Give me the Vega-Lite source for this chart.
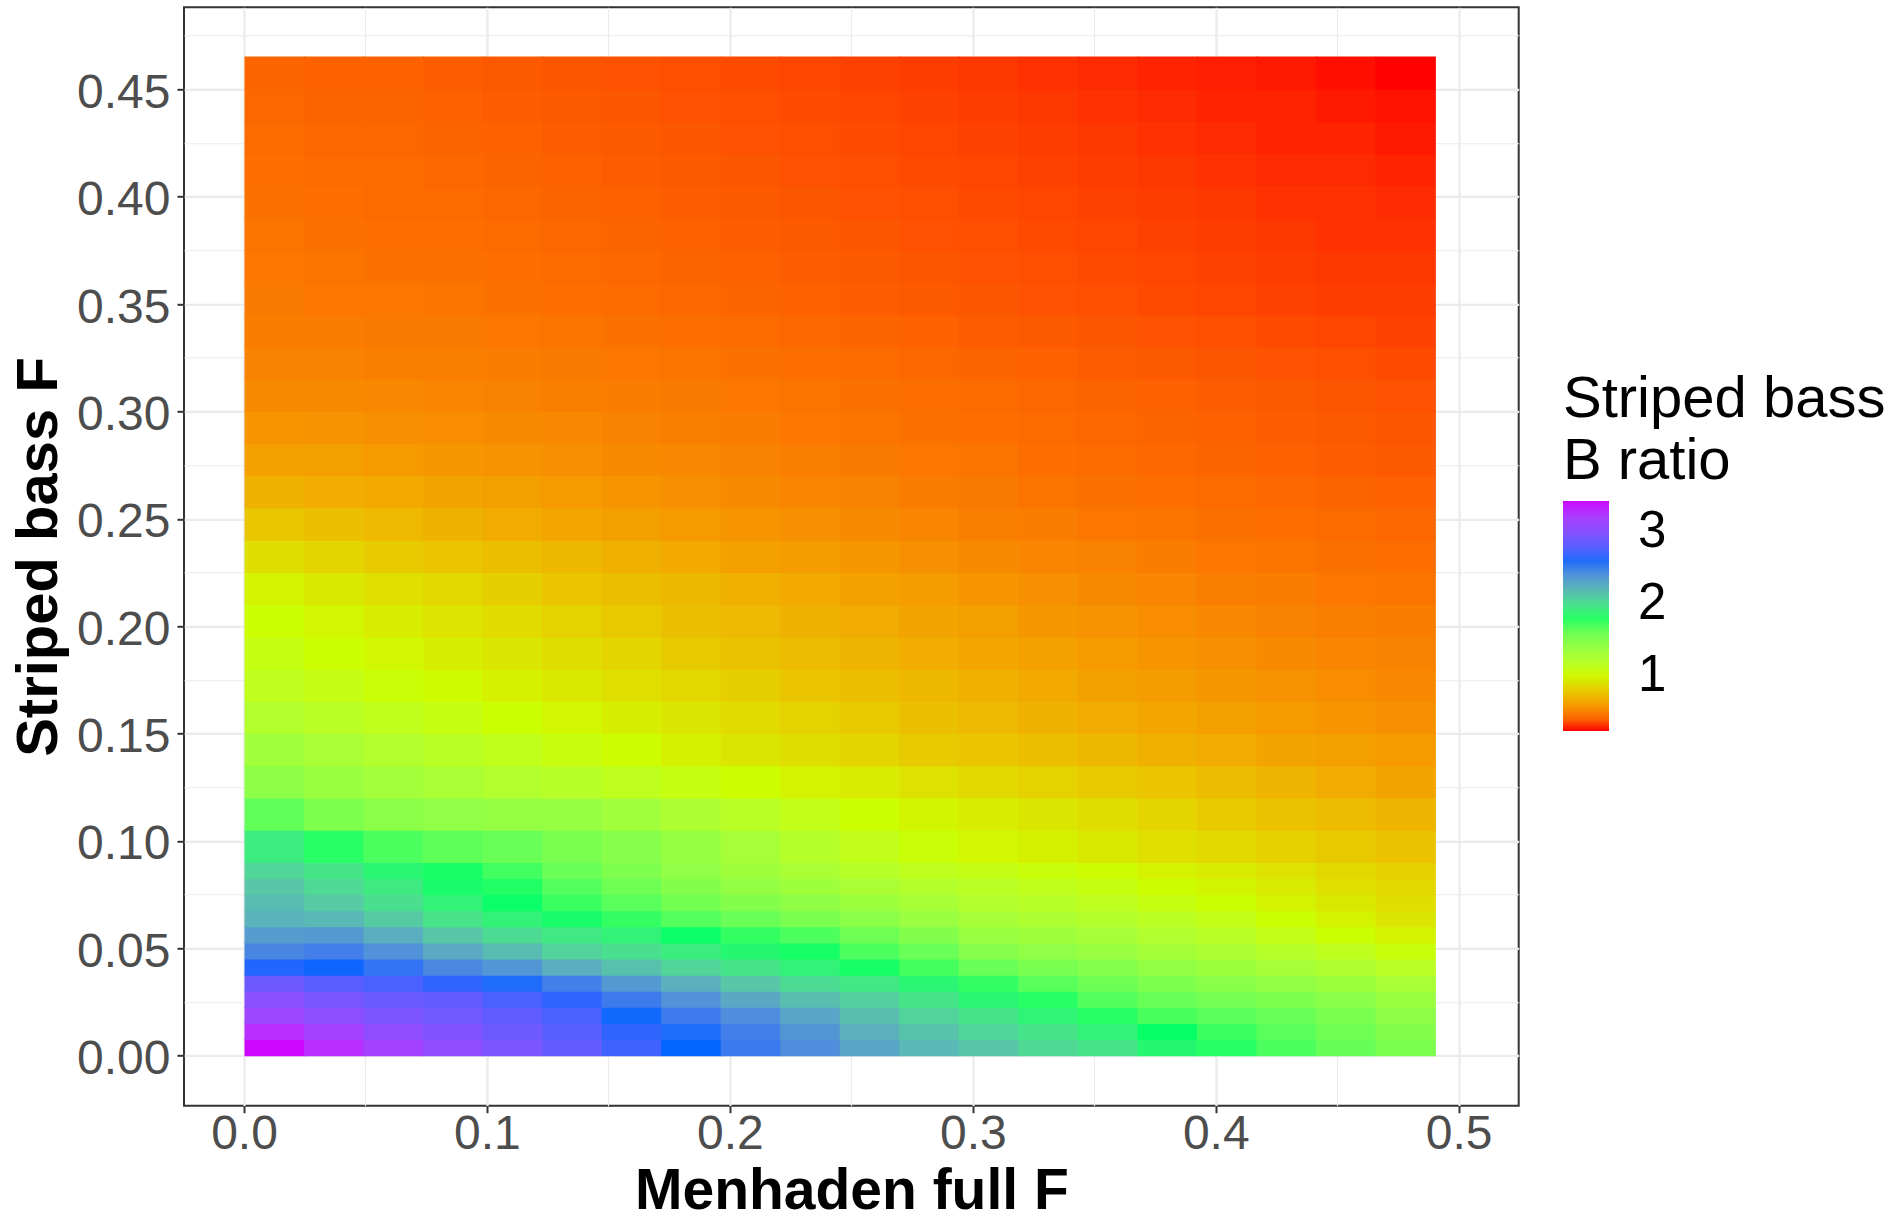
{
"$schema":"https://vega.github.io/schema/vega-lite/v6.json",
"width":1334.7,"height":1098.4,
"autosize":{"type":"none"},
"padding":{"left":184,"top":7.3,"right":378.3,"bottom":114.3},
"background":"white",
"datasets":{
"lo":[
{"x":0,"y":0,"v":3.42},{"x":0.0245,"y":0,"v":3.3},{"x":0.049,"y":0,"v":3.17},{"x":0.0735,"y":0,"v":3.04},{"x":0.098,"y":0,"v":2.95},{"x":0.1225,"y":0,"v":2.84},{"x":0.147,"y":0,"v":2.72},{"x":0.1715,"y":0,"v":2.63},{"x":0.196,"y":0,"v":2.53},{"x":0.2205,"y":0,"v":2.42},{"x":0.245,"y":0,"v":2.3},{"x":0.2695,"y":0,"v":2.2},{"x":0.294,"y":0,"v":2.12},{"x":0.3185,"y":0,"v":2.03},{"x":0.343,"y":0,"v":1.97},{"x":0.3675,"y":0,"v":1.87},{"x":0.392,"y":0,"v":1.8},{"x":0.4165,"y":0,"v":1.72},{"x":0.441,"y":0,"v":1.63},{"x":0.4655,"y":0,"v":1.54},
{"x":0,"y":0.0075,"v":3.3},{"x":0.0245,"y":0.0075,"v":3.17},{"x":0.049,"y":0.0075,"v":3.05},{"x":0.0735,"y":0.0075,"v":2.97},{"x":0.098,"y":0.0075,"v":2.88},{"x":0.1225,"y":0.0075,"v":2.79},{"x":0.147,"y":0.0075,"v":2.68},{"x":0.1715,"y":0.0075,"v":2.6},{"x":0.196,"y":0.0075,"v":2.5},{"x":0.2205,"y":0.0075,"v":2.38},{"x":0.245,"y":0.0075,"v":2.24},{"x":0.2695,"y":0.0075,"v":2.14},{"x":0.294,"y":0.0075,"v":2.05},{"x":0.3185,"y":0.0075,"v":1.97},{"x":0.343,"y":0.0075,"v":1.9},{"x":0.3675,"y":0.0075,"v":1.83},{"x":0.392,"y":0.0075,"v":1.77},{"x":0.4165,"y":0.0075,"v":1.68},{"x":0.441,"y":0.0075,"v":1.6},{"x":0.4655,"y":0.0075,"v":1.5},
{"x":0,"y":0.015,"v":3.13},{"x":0.0245,"y":0.015,"v":3.03},{"x":0.049,"y":0.015,"v":2.95},{"x":0.0735,"y":0.015,"v":2.9},{"x":0.098,"y":0.015,"v":2.82},{"x":0.1225,"y":0.015,"v":2.74},{"x":0.147,"y":0.015,"v":2.62},{"x":0.1715,"y":0.015,"v":2.52},{"x":0.196,"y":0.015,"v":2.42},{"x":0.2205,"y":0.015,"v":2.3},{"x":0.245,"y":0.015,"v":2.17},{"x":0.2695,"y":0.015,"v":2.06},{"x":0.294,"y":0.015,"v":1.97},{"x":0.3185,"y":0.015,"v":1.89},{"x":0.343,"y":0.015,"v":1.8},{"x":0.3675,"y":0.015,"v":1.73},{"x":0.392,"y":0.015,"v":1.68},{"x":0.4165,"y":0.015,"v":1.62},{"x":0.441,"y":0.015,"v":1.55},{"x":0.4655,"y":0.015,"v":1.45},
{"x":0,"y":0.0225,"v":3.02},{"x":0.0245,"y":0.0225,"v":2.93},{"x":0.049,"y":0.0225,"v":2.86},{"x":0.0735,"y":0.0225,"v":2.83},{"x":0.098,"y":0.0225,"v":2.75},{"x":0.1225,"y":0.0225,"v":2.68},{"x":0.147,"y":0.0225,"v":2.52},{"x":0.1715,"y":0.0225,"v":2.4},{"x":0.196,"y":0.0225,"v":2.28},{"x":0.2205,"y":0.0225,"v":2.17},{"x":0.245,"y":0.0225,"v":2.08},{"x":0.2695,"y":0.0225,"v":1.97},{"x":0.294,"y":0.0225,"v":1.88},{"x":0.3185,"y":0.0225,"v":1.8},{"x":0.343,"y":0.0225,"v":1.7},{"x":0.3675,"y":0.0225,"v":1.62},{"x":0.392,"y":0.0225,"v":1.57},{"x":0.4165,"y":0.0225,"v":1.52},{"x":0.441,"y":0.0225,"v":1.47},{"x":0.4655,"y":0.0225,"v":1.38},
{"x":0,"y":0.03,"v":2.88},{"x":0.0245,"y":0.03,"v":2.8},{"x":0.049,"y":0.03,"v":2.74},{"x":0.0735,"y":0.03,"v":2.68},{"x":0.098,"y":0.03,"v":2.6},{"x":0.1225,"y":0.03,"v":2.5},{"x":0.147,"y":0.03,"v":2.36},{"x":0.1715,"y":0.03,"v":2.24},{"x":0.196,"y":0.03,"v":2.12},{"x":0.2205,"y":0.03,"v":2.02},{"x":0.245,"y":0.03,"v":1.95},{"x":0.2695,"y":0.03,"v":1.88},{"x":0.294,"y":0.03,"v":1.78},{"x":0.3185,"y":0.03,"v":1.68},{"x":0.343,"y":0.03,"v":1.6},{"x":0.3675,"y":0.03,"v":1.52},{"x":0.392,"y":0.03,"v":1.47},{"x":0.4165,"y":0.03,"v":1.42},{"x":0.441,"y":0.03,"v":1.36},{"x":0.4655,"y":0.03,"v":1.28},
{"x":0,"y":0.0375,"v":2.66},{"x":0.0245,"y":0.0375,"v":2.64},{"x":0.049,"y":0.0375,"v":2.56},{"x":0.0735,"y":0.0375,"v":2.45},{"x":0.098,"y":0.0375,"v":2.38},{"x":0.1225,"y":0.0375,"v":2.25},{"x":0.147,"y":0.0375,"v":2.15},{"x":0.1715,"y":0.0375,"v":2.05},{"x":0.196,"y":0.0375,"v":1.97},{"x":0.2205,"y":0.0375,"v":1.9},{"x":0.245,"y":0.0375,"v":1.82},{"x":0.2695,"y":0.0375,"v":1.74},{"x":0.294,"y":0.0375,"v":1.62},{"x":0.3185,"y":0.0375,"v":1.55},{"x":0.343,"y":0.0375,"v":1.49},{"x":0.3675,"y":0.0375,"v":1.42},{"x":0.392,"y":0.0375,"v":1.36},{"x":0.4165,"y":0.0375,"v":1.3},{"x":0.441,"y":0.0375,"v":1.24},{"x":0.4655,"y":0.0375,"v":1.16},
{"x":0,"y":0.045,"v":2.46},{"x":0.0245,"y":0.045,"v":2.5},{"x":0.049,"y":0.045,"v":2.4},{"x":0.0735,"y":0.045,"v":2.27},{"x":0.098,"y":0.045,"v":2.18},{"x":0.1225,"y":0.045,"v":2.06},{"x":0.147,"y":0.045,"v":2.0},{"x":0.1715,"y":0.045,"v":1.93},{"x":0.196,"y":0.045,"v":1.87},{"x":0.2205,"y":0.045,"v":1.82},{"x":0.245,"y":0.045,"v":1.72},{"x":0.2695,"y":0.045,"v":1.62},{"x":0.294,"y":0.045,"v":1.48},{"x":0.3185,"y":0.045,"v":1.43},{"x":0.343,"y":0.045,"v":1.38},{"x":0.3675,"y":0.045,"v":1.31},{"x":0.392,"y":0.045,"v":1.25},{"x":0.4165,"y":0.045,"v":1.19},{"x":0.441,"y":0.045,"v":1.13},{"x":0.4655,"y":0.045,"v":1.06},
{"x":0,"y":0.0525,"v":2.34},{"x":0.0245,"y":0.0525,"v":2.36},{"x":0.049,"y":0.0525,"v":2.25},{"x":0.0735,"y":0.0525,"v":2.12},{"x":0.098,"y":0.0525,"v":2.02},{"x":0.1225,"y":0.0525,"v":1.95},{"x":0.147,"y":0.0525,"v":1.9},{"x":0.1715,"y":0.0525,"v":1.84},{"x":0.196,"y":0.0525,"v":1.78},{"x":0.2205,"y":0.0525,"v":1.72},{"x":0.245,"y":0.0525,"v":1.6},{"x":0.2695,"y":0.0525,"v":1.5},{"x":0.294,"y":0.0525,"v":1.38},{"x":0.3185,"y":0.0525,"v":1.34},{"x":0.343,"y":0.0525,"v":1.3},{"x":0.3675,"y":0.0525,"v":1.23},{"x":0.392,"y":0.0525,"v":1.17},{"x":0.4165,"y":0.0525,"v":1.1},{"x":0.441,"y":0.0525,"v":1.04},{"x":0.4655,"y":0.0525,"v":0.98},
{"x":0,"y":0.06,"v":2.23},{"x":0.0245,"y":0.06,"v":2.2},{"x":0.049,"y":0.06,"v":2.1},{"x":0.0735,"y":0.06,"v":1.98},{"x":0.098,"y":0.06,"v":1.9},{"x":0.1225,"y":0.06,"v":1.85},{"x":0.147,"y":0.06,"v":1.78},{"x":0.1715,"y":0.06,"v":1.7},{"x":0.196,"y":0.06,"v":1.62},{"x":0.2205,"y":0.06,"v":1.55},{"x":0.245,"y":0.06,"v":1.46},{"x":0.2695,"y":0.06,"v":1.38},{"x":0.294,"y":0.06,"v":1.3},{"x":0.3185,"y":0.06,"v":1.25},{"x":0.343,"y":0.06,"v":1.21},{"x":0.3675,"y":0.06,"v":1.15},{"x":0.392,"y":0.06,"v":1.1},{"x":0.4165,"y":0.06,"v":1.04},{"x":0.441,"y":0.06,"v":0.98},{"x":0.4655,"y":0.06,"v":0.92},
{"x":0,"y":0.0675,"v":2.18},{"x":0.0245,"y":0.0675,"v":2.1},{"x":0.049,"y":0.0675,"v":2.0},{"x":0.0735,"y":0.0675,"v":1.9},{"x":0.098,"y":0.0675,"v":1.84},{"x":0.1225,"y":0.0675,"v":1.77},{"x":0.147,"y":0.0675,"v":1.68},{"x":0.1715,"y":0.0675,"v":1.58},{"x":0.196,"y":0.0675,"v":1.5},{"x":0.2205,"y":0.0675,"v":1.44},{"x":0.245,"y":0.0675,"v":1.36},{"x":0.2695,"y":0.0675,"v":1.29},{"x":0.294,"y":0.0675,"v":1.22},{"x":0.3185,"y":0.0675,"v":1.18},{"x":0.343,"y":0.0675,"v":1.14},{"x":0.3675,"y":0.0675,"v":1.08},{"x":0.392,"y":0.0675,"v":1.04},{"x":0.4165,"y":0.0675,"v":0.98},{"x":0.441,"y":0.0675,"v":0.93},{"x":0.4655,"y":0.0675,"v":0.88},
{"x":0,"y":0.075,"v":2.12},{"x":0.0245,"y":0.075,"v":2.03},{"x":0.049,"y":0.075,"v":1.94},{"x":0.0735,"y":0.075,"v":1.85},{"x":0.098,"y":0.075,"v":1.81},{"x":0.1225,"y":0.075,"v":1.7},{"x":0.147,"y":0.075,"v":1.6},{"x":0.1715,"y":0.075,"v":1.5},{"x":0.196,"y":0.075,"v":1.42},{"x":0.2205,"y":0.075,"v":1.35},{"x":0.245,"y":0.075,"v":1.27},{"x":0.2695,"y":0.075,"v":1.21},{"x":0.294,"y":0.075,"v":1.16},{"x":0.3185,"y":0.075,"v":1.12},{"x":0.343,"y":0.075,"v":1.08},{"x":0.3675,"y":0.075,"v":1.03},{"x":0.392,"y":0.075,"v":0.99},{"x":0.4165,"y":0.075,"v":0.94},{"x":0.441,"y":0.075,"v":0.89},{"x":0.4655,"y":0.075,"v":0.85},
{"x":0,"y":0.0825,"v":2.05},{"x":0.0245,"y":0.0825,"v":1.97},{"x":0.049,"y":0.0825,"v":1.88},{"x":0.0735,"y":0.0825,"v":1.82},{"x":0.098,"y":0.0825,"v":1.75},{"x":0.1225,"y":0.0825,"v":1.62},{"x":0.147,"y":0.0825,"v":1.52},{"x":0.1715,"y":0.0825,"v":1.43},{"x":0.196,"y":0.0825,"v":1.34},{"x":0.2205,"y":0.0825,"v":1.27},{"x":0.245,"y":0.0825,"v":1.19},{"x":0.2695,"y":0.0825,"v":1.13},{"x":0.294,"y":0.0825,"v":1.09},{"x":0.3185,"y":0.0825,"v":1.06},{"x":0.343,"y":0.0825,"v":1.02},{"x":0.3675,"y":0.0825,"v":0.98},{"x":0.392,"y":0.0825,"v":0.94},{"x":0.4165,"y":0.0825,"v":0.9},{"x":0.441,"y":0.0825,"v":0.85},{"x":0.4655,"y":0.0825,"v":0.82}
],
"hi":[
{"x":0,"y":0.09,"v":1.93},{"x":0.0245,"y":0.09,"v":1.8},{"x":0.049,"y":0.09,"v":1.72},{"x":0.0735,"y":0.09,"v":1.66},{"x":0.098,"y":0.09,"v":1.62},{"x":0.1225,"y":0.09,"v":1.55},{"x":0.147,"y":0.09,"v":1.48},{"x":0.1715,"y":0.09,"v":1.4},{"x":0.196,"y":0.09,"v":1.3},{"x":0.2205,"y":0.09,"v":1.2},{"x":0.245,"y":0.09,"v":1.11},{"x":0.2695,"y":0.09,"v":1.05},{"x":0.294,"y":0.09,"v":1.0},{"x":0.3185,"y":0.09,"v":0.97},{"x":0.343,"y":0.09,"v":0.93},{"x":0.3675,"y":0.09,"v":0.89},{"x":0.392,"y":0.09,"v":0.86},{"x":0.4165,"y":0.09,"v":0.82},{"x":0.441,"y":0.09,"v":0.79},{"x":0.4655,"y":0.09,"v":0.76},
{"x":0,"y":0.105,"v":1.65},{"x":0.0245,"y":0.105,"v":1.52},{"x":0.049,"y":0.105,"v":1.46},{"x":0.0735,"y":0.105,"v":1.43},{"x":0.098,"y":0.105,"v":1.41},{"x":0.1225,"y":0.105,"v":1.39},{"x":0.147,"y":0.105,"v":1.33},{"x":0.1715,"y":0.105,"v":1.25},{"x":0.196,"y":0.105,"v":1.17},{"x":0.2205,"y":0.105,"v":1.1},{"x":0.245,"y":0.105,"v":1.04},{"x":0.2695,"y":0.105,"v":0.99},{"x":0.294,"y":0.105,"v":0.95},{"x":0.3185,"y":0.105,"v":0.92},{"x":0.343,"y":0.105,"v":0.88},{"x":0.3675,"y":0.105,"v":0.84},{"x":0.392,"y":0.105,"v":0.8},{"x":0.4165,"y":0.105,"v":0.76},{"x":0.441,"y":0.105,"v":0.73},{"x":0.4655,"y":0.105,"v":0.7},
{"x":0,"y":0.12,"v":1.45},{"x":0.0245,"y":0.12,"v":1.38},{"x":0.049,"y":0.12,"v":1.32},{"x":0.0735,"y":0.12,"v":1.27},{"x":0.098,"y":0.12,"v":1.22},{"x":0.1225,"y":0.12,"v":1.18},{"x":0.147,"y":0.12,"v":1.13},{"x":0.1715,"y":0.12,"v":1.08},{"x":0.196,"y":0.12,"v":1.03},{"x":0.2205,"y":0.12,"v":0.98},{"x":0.245,"y":0.12,"v":0.94},{"x":0.2695,"y":0.12,"v":0.9},{"x":0.294,"y":0.12,"v":0.86},{"x":0.3185,"y":0.12,"v":0.83},{"x":0.343,"y":0.12,"v":0.8},{"x":0.3675,"y":0.12,"v":0.77},{"x":0.392,"y":0.12,"v":0.73},{"x":0.4165,"y":0.12,"v":0.7},{"x":0.441,"y":0.12,"v":0.66},{"x":0.4655,"y":0.12,"v":0.63},
{"x":0,"y":0.135,"v":1.33},{"x":0.0245,"y":0.135,"v":1.27},{"x":0.049,"y":0.135,"v":1.22},{"x":0.0735,"y":0.135,"v":1.17},{"x":0.098,"y":0.135,"v":1.12},{"x":0.1225,"y":0.135,"v":1.07},{"x":0.147,"y":0.135,"v":1.02},{"x":0.1715,"y":0.135,"v":0.97},{"x":0.196,"y":0.135,"v":0.92},{"x":0.2205,"y":0.135,"v":0.88},{"x":0.245,"y":0.135,"v":0.84},{"x":0.2695,"y":0.135,"v":0.8},{"x":0.294,"y":0.135,"v":0.77},{"x":0.3185,"y":0.135,"v":0.74},{"x":0.343,"y":0.135,"v":0.71},{"x":0.3675,"y":0.135,"v":0.68},{"x":0.392,"y":0.135,"v":0.66},{"x":0.4165,"y":0.135,"v":0.63},{"x":0.441,"y":0.135,"v":0.61},{"x":0.4655,"y":0.135,"v":0.59},
{"x":0,"y":0.15,"v":1.22},{"x":0.0245,"y":0.15,"v":1.17},{"x":0.049,"y":0.15,"v":1.12},{"x":0.0735,"y":0.15,"v":1.08},{"x":0.098,"y":0.15,"v":1.04},{"x":0.1225,"y":0.15,"v":1.0},{"x":0.147,"y":0.15,"v":0.96},{"x":0.1715,"y":0.15,"v":0.92},{"x":0.196,"y":0.15,"v":0.87},{"x":0.2205,"y":0.15,"v":0.83},{"x":0.245,"y":0.15,"v":0.79},{"x":0.2695,"y":0.15,"v":0.75},{"x":0.294,"y":0.15,"v":0.72},{"x":0.3185,"y":0.15,"v":0.69},{"x":0.343,"y":0.15,"v":0.66},{"x":0.3675,"y":0.15,"v":0.64},{"x":0.392,"y":0.15,"v":0.61},{"x":0.4165,"y":0.15,"v":0.59},{"x":0.441,"y":0.15,"v":0.57},{"x":0.4655,"y":0.15,"v":0.55},
{"x":0,"y":0.165,"v":1.13},{"x":0.0245,"y":0.165,"v":1.09},{"x":0.049,"y":0.165,"v":1.05},{"x":0.0735,"y":0.165,"v":1.01},{"x":0.098,"y":0.165,"v":0.97},{"x":0.1225,"y":0.165,"v":0.93},{"x":0.147,"y":0.165,"v":0.89},{"x":0.1715,"y":0.165,"v":0.85},{"x":0.196,"y":0.165,"v":0.81},{"x":0.2205,"y":0.165,"v":0.77},{"x":0.245,"y":0.165,"v":0.74},{"x":0.2695,"y":0.165,"v":0.71},{"x":0.294,"y":0.165,"v":0.68},{"x":0.3185,"y":0.165,"v":0.65},{"x":0.343,"y":0.165,"v":0.62},{"x":0.3675,"y":0.165,"v":0.6},{"x":0.392,"y":0.165,"v":0.58},{"x":0.4165,"y":0.165,"v":0.56},{"x":0.441,"y":0.165,"v":0.54},{"x":0.4655,"y":0.165,"v":0.52},
{"x":0,"y":0.18,"v":1.08},{"x":0.0245,"y":0.18,"v":1.04},{"x":0.049,"y":0.18,"v":1.0},{"x":0.0735,"y":0.18,"v":0.96},{"x":0.098,"y":0.18,"v":0.92},{"x":0.1225,"y":0.18,"v":0.88},{"x":0.147,"y":0.18,"v":0.84},{"x":0.1715,"y":0.18,"v":0.8},{"x":0.196,"y":0.18,"v":0.76},{"x":0.2205,"y":0.18,"v":0.73},{"x":0.245,"y":0.18,"v":0.7},{"x":0.2695,"y":0.18,"v":0.67},{"x":0.294,"y":0.18,"v":0.64},{"x":0.3185,"y":0.18,"v":0.62},{"x":0.343,"y":0.18,"v":0.59},{"x":0.3675,"y":0.18,"v":0.57},{"x":0.392,"y":0.18,"v":0.55},{"x":0.4165,"y":0.18,"v":0.53},{"x":0.441,"y":0.18,"v":0.51},{"x":0.4655,"y":0.18,"v":0.5},
{"x":0,"y":0.195,"v":1.04},{"x":0.0245,"y":0.195,"v":1.0},{"x":0.049,"y":0.195,"v":0.95},{"x":0.0735,"y":0.195,"v":0.91},{"x":0.098,"y":0.195,"v":0.87},{"x":0.1225,"y":0.195,"v":0.83},{"x":0.147,"y":0.195,"v":0.79},{"x":0.1715,"y":0.195,"v":0.75},{"x":0.196,"y":0.195,"v":0.72},{"x":0.2205,"y":0.195,"v":0.69},{"x":0.245,"y":0.195,"v":0.66},{"x":0.2695,"y":0.195,"v":0.63},{"x":0.294,"y":0.195,"v":0.61},{"x":0.3185,"y":0.195,"v":0.58},{"x":0.343,"y":0.195,"v":0.56},{"x":0.3675,"y":0.195,"v":0.54},{"x":0.392,"y":0.195,"v":0.52},{"x":0.4165,"y":0.195,"v":0.5},{"x":0.441,"y":0.195,"v":0.49},{"x":0.4655,"y":0.195,"v":0.48},
{"x":0,"y":0.21,"v":0.98},{"x":0.0245,"y":0.21,"v":0.93},{"x":0.049,"y":0.21,"v":0.89},{"x":0.0735,"y":0.21,"v":0.85},{"x":0.098,"y":0.21,"v":0.81},{"x":0.1225,"y":0.21,"v":0.77},{"x":0.147,"y":0.21,"v":0.74},{"x":0.1715,"y":0.21,"v":0.71},{"x":0.196,"y":0.21,"v":0.68},{"x":0.2205,"y":0.21,"v":0.65},{"x":0.245,"y":0.21,"v":0.62},{"x":0.2695,"y":0.21,"v":0.6},{"x":0.294,"y":0.21,"v":0.57},{"x":0.3185,"y":0.21,"v":0.55},{"x":0.343,"y":0.21,"v":0.53},{"x":0.3675,"y":0.21,"v":0.51},{"x":0.392,"y":0.21,"v":0.49},{"x":0.4165,"y":0.21,"v":0.48},{"x":0.441,"y":0.21,"v":0.46},{"x":0.4655,"y":0.21,"v":0.45},
{"x":0,"y":0.225,"v":0.88},{"x":0.0245,"y":0.225,"v":0.84},{"x":0.049,"y":0.225,"v":0.8},{"x":0.0735,"y":0.225,"v":0.77},{"x":0.098,"y":0.225,"v":0.74},{"x":0.1225,"y":0.225,"v":0.71},{"x":0.147,"y":0.225,"v":0.68},{"x":0.1715,"y":0.225,"v":0.65},{"x":0.196,"y":0.225,"v":0.62},{"x":0.2205,"y":0.225,"v":0.6},{"x":0.245,"y":0.225,"v":0.58},{"x":0.2695,"y":0.225,"v":0.55},{"x":0.294,"y":0.225,"v":0.53},{"x":0.3185,"y":0.225,"v":0.51},{"x":0.343,"y":0.225,"v":0.5},{"x":0.3675,"y":0.225,"v":0.48},{"x":0.392,"y":0.225,"v":0.46},{"x":0.4165,"y":0.225,"v":0.45},{"x":0.441,"y":0.225,"v":0.44},{"x":0.4655,"y":0.225,"v":0.43},
{"x":0,"y":0.24,"v":0.78},{"x":0.0245,"y":0.24,"v":0.75},{"x":0.049,"y":0.24,"v":0.72},{"x":0.0735,"y":0.24,"v":0.69},{"x":0.098,"y":0.24,"v":0.66},{"x":0.1225,"y":0.24,"v":0.64},{"x":0.147,"y":0.24,"v":0.61},{"x":0.1715,"y":0.24,"v":0.59},{"x":0.196,"y":0.24,"v":0.57},{"x":0.2205,"y":0.24,"v":0.55},{"x":0.245,"y":0.24,"v":0.53},{"x":0.2695,"y":0.24,"v":0.51},{"x":0.294,"y":0.24,"v":0.49},{"x":0.3185,"y":0.24,"v":0.48},{"x":0.343,"y":0.24,"v":0.46},{"x":0.3675,"y":0.24,"v":0.45},{"x":0.392,"y":0.24,"v":0.44},{"x":0.4165,"y":0.24,"v":0.43},{"x":0.441,"y":0.24,"v":0.42},{"x":0.4655,"y":0.24,"v":0.41},
{"x":0,"y":0.255,"v":0.69},{"x":0.0245,"y":0.255,"v":0.67},{"x":0.049,"y":0.255,"v":0.65},{"x":0.0735,"y":0.255,"v":0.63},{"x":0.098,"y":0.255,"v":0.61},{"x":0.1225,"y":0.255,"v":0.59},{"x":0.147,"y":0.255,"v":0.57},{"x":0.1715,"y":0.255,"v":0.55},{"x":0.196,"y":0.255,"v":0.53},{"x":0.2205,"y":0.255,"v":0.51},{"x":0.245,"y":0.255,"v":0.5},{"x":0.2695,"y":0.255,"v":0.48},{"x":0.294,"y":0.255,"v":0.47},{"x":0.3185,"y":0.255,"v":0.45},{"x":0.343,"y":0.255,"v":0.44},{"x":0.3675,"y":0.255,"v":0.43},{"x":0.392,"y":0.255,"v":0.42},{"x":0.4165,"y":0.255,"v":0.41},{"x":0.441,"y":0.255,"v":0.4},{"x":0.4655,"y":0.255,"v":0.39},
{"x":0,"y":0.27,"v":0.62},{"x":0.0245,"y":0.27,"v":0.61},{"x":0.049,"y":0.27,"v":0.59},{"x":0.0735,"y":0.27,"v":0.58},{"x":0.098,"y":0.27,"v":0.56},{"x":0.1225,"y":0.27,"v":0.55},{"x":0.147,"y":0.27,"v":0.53},{"x":0.1715,"y":0.27,"v":0.52},{"x":0.196,"y":0.27,"v":0.5},{"x":0.2205,"y":0.27,"v":0.49},{"x":0.245,"y":0.27,"v":0.47},{"x":0.2695,"y":0.27,"v":0.46},{"x":0.294,"y":0.27,"v":0.45},{"x":0.3185,"y":0.27,"v":0.43},{"x":0.343,"y":0.27,"v":0.42},{"x":0.3675,"y":0.27,"v":0.41},{"x":0.392,"y":0.27,"v":0.4},{"x":0.4165,"y":0.27,"v":0.39},{"x":0.441,"y":0.27,"v":0.38},{"x":0.4655,"y":0.27,"v":0.37},
{"x":0,"y":0.285,"v":0.57},{"x":0.0245,"y":0.285,"v":0.56},{"x":0.049,"y":0.285,"v":0.55},{"x":0.0735,"y":0.285,"v":0.54},{"x":0.098,"y":0.285,"v":0.53},{"x":0.1225,"y":0.285,"v":0.52},{"x":0.147,"y":0.285,"v":0.5},{"x":0.1715,"y":0.285,"v":0.49},{"x":0.196,"y":0.285,"v":0.48},{"x":0.2205,"y":0.285,"v":0.46},{"x":0.245,"y":0.285,"v":0.45},{"x":0.2695,"y":0.285,"v":0.44},{"x":0.294,"y":0.285,"v":0.43},{"x":0.3185,"y":0.285,"v":0.42},{"x":0.343,"y":0.285,"v":0.41},{"x":0.3675,"y":0.285,"v":0.4},{"x":0.392,"y":0.285,"v":0.39},{"x":0.4165,"y":0.285,"v":0.38},{"x":0.441,"y":0.285,"v":0.37},{"x":0.4655,"y":0.285,"v":0.36},
{"x":0,"y":0.3,"v":0.53},{"x":0.0245,"y":0.3,"v":0.53},{"x":0.049,"y":0.3,"v":0.52},{"x":0.0735,"y":0.3,"v":0.51},{"x":0.098,"y":0.3,"v":0.5},{"x":0.1225,"y":0.3,"v":0.49},{"x":0.147,"y":0.3,"v":0.48},{"x":0.1715,"y":0.3,"v":0.47},{"x":0.196,"y":0.3,"v":0.46},{"x":0.2205,"y":0.3,"v":0.45},{"x":0.245,"y":0.3,"v":0.44},{"x":0.2695,"y":0.3,"v":0.43},{"x":0.294,"y":0.3,"v":0.42},{"x":0.3185,"y":0.3,"v":0.41},{"x":0.343,"y":0.3,"v":0.4},{"x":0.3675,"y":0.3,"v":0.39},{"x":0.392,"y":0.3,"v":0.38},{"x":0.4165,"y":0.3,"v":0.37},{"x":0.441,"y":0.3,"v":0.36},{"x":0.4655,"y":0.3,"v":0.35},
{"x":0,"y":0.315,"v":0.5},{"x":0.0245,"y":0.315,"v":0.5},{"x":0.049,"y":0.315,"v":0.49},{"x":0.0735,"y":0.315,"v":0.49},{"x":0.098,"y":0.315,"v":0.48},{"x":0.1225,"y":0.315,"v":0.47},{"x":0.147,"y":0.315,"v":0.46},{"x":0.1715,"y":0.315,"v":0.45},{"x":0.196,"y":0.315,"v":0.44},{"x":0.2205,"y":0.315,"v":0.43},{"x":0.245,"y":0.315,"v":0.42},{"x":0.2695,"y":0.315,"v":0.41},{"x":0.294,"y":0.315,"v":0.4},{"x":0.3185,"y":0.315,"v":0.39},{"x":0.343,"y":0.315,"v":0.38},{"x":0.3675,"y":0.315,"v":0.37},{"x":0.392,"y":0.315,"v":0.36},{"x":0.4165,"y":0.315,"v":0.35},{"x":0.441,"y":0.315,"v":0.34},{"x":0.4655,"y":0.315,"v":0.33},
{"x":0,"y":0.33,"v":0.48},{"x":0.0245,"y":0.33,"v":0.48},{"x":0.049,"y":0.33,"v":0.47},{"x":0.0735,"y":0.33,"v":0.47},{"x":0.098,"y":0.33,"v":0.46},{"x":0.1225,"y":0.33,"v":0.45},{"x":0.147,"y":0.33,"v":0.44},{"x":0.1715,"y":0.33,"v":0.43},{"x":0.196,"y":0.33,"v":0.42},{"x":0.2205,"y":0.33,"v":0.41},{"x":0.245,"y":0.33,"v":0.4},{"x":0.2695,"y":0.33,"v":0.39},{"x":0.294,"y":0.33,"v":0.38},{"x":0.3185,"y":0.33,"v":0.37},{"x":0.343,"y":0.33,"v":0.36},{"x":0.3675,"y":0.33,"v":0.35},{"x":0.392,"y":0.33,"v":0.34},{"x":0.4165,"y":0.33,"v":0.33},{"x":0.441,"y":0.33,"v":0.32},{"x":0.4655,"y":0.33,"v":0.31},
{"x":0,"y":0.345,"v":0.47},{"x":0.0245,"y":0.345,"v":0.46},{"x":0.049,"y":0.345,"v":0.46},{"x":0.0735,"y":0.345,"v":0.45},{"x":0.098,"y":0.345,"v":0.44},{"x":0.1225,"y":0.345,"v":0.43},{"x":0.147,"y":0.345,"v":0.42},{"x":0.1715,"y":0.345,"v":0.41},{"x":0.196,"y":0.345,"v":0.4},{"x":0.2205,"y":0.345,"v":0.39},{"x":0.245,"y":0.345,"v":0.38},{"x":0.2695,"y":0.345,"v":0.37},{"x":0.294,"y":0.345,"v":0.36},{"x":0.3185,"y":0.345,"v":0.35},{"x":0.343,"y":0.345,"v":0.34},{"x":0.3675,"y":0.345,"v":0.33},{"x":0.392,"y":0.345,"v":0.32},{"x":0.4165,"y":0.345,"v":0.31},{"x":0.441,"y":0.345,"v":0.3},{"x":0.4655,"y":0.345,"v":0.3},
{"x":0,"y":0.36,"v":0.46},{"x":0.0245,"y":0.36,"v":0.45},{"x":0.049,"y":0.36,"v":0.44},{"x":0.0735,"y":0.36,"v":0.44},{"x":0.098,"y":0.36,"v":0.43},{"x":0.1225,"y":0.36,"v":0.42},{"x":0.147,"y":0.36,"v":0.41},{"x":0.1715,"y":0.36,"v":0.4},{"x":0.196,"y":0.36,"v":0.39},{"x":0.2205,"y":0.36,"v":0.38},{"x":0.245,"y":0.36,"v":0.37},{"x":0.2695,"y":0.36,"v":0.36},{"x":0.294,"y":0.36,"v":0.35},{"x":0.3185,"y":0.36,"v":0.34},{"x":0.343,"y":0.36,"v":0.33},{"x":0.3675,"y":0.36,"v":0.32},{"x":0.392,"y":0.36,"v":0.31},{"x":0.4165,"y":0.36,"v":0.3},{"x":0.441,"y":0.36,"v":0.29},{"x":0.4655,"y":0.36,"v":0.29},
{"x":0,"y":0.375,"v":0.45},{"x":0.0245,"y":0.375,"v":0.44},{"x":0.049,"y":0.375,"v":0.43},{"x":0.0735,"y":0.375,"v":0.43},{"x":0.098,"y":0.375,"v":0.42},{"x":0.1225,"y":0.375,"v":0.41},{"x":0.147,"y":0.375,"v":0.4},{"x":0.1715,"y":0.375,"v":0.39},{"x":0.196,"y":0.375,"v":0.38},{"x":0.2205,"y":0.375,"v":0.37},{"x":0.245,"y":0.375,"v":0.36},{"x":0.2695,"y":0.375,"v":0.35},{"x":0.294,"y":0.375,"v":0.34},{"x":0.3185,"y":0.375,"v":0.33},{"x":0.343,"y":0.375,"v":0.32},{"x":0.3675,"y":0.375,"v":0.31},{"x":0.392,"y":0.375,"v":0.3},{"x":0.4165,"y":0.375,"v":0.29},{"x":0.441,"y":0.375,"v":0.28},{"x":0.4655,"y":0.375,"v":0.28},
{"x":0,"y":0.39,"v":0.44},{"x":0.0245,"y":0.39,"v":0.43},{"x":0.049,"y":0.39,"v":0.42},{"x":0.0735,"y":0.39,"v":0.42},{"x":0.098,"y":0.39,"v":0.41},{"x":0.1225,"y":0.39,"v":0.4},{"x":0.147,"y":0.39,"v":0.39},{"x":0.1715,"y":0.39,"v":0.38},{"x":0.196,"y":0.39,"v":0.37},{"x":0.2205,"y":0.39,"v":0.36},{"x":0.245,"y":0.39,"v":0.35},{"x":0.2695,"y":0.39,"v":0.34},{"x":0.294,"y":0.39,"v":0.33},{"x":0.3185,"y":0.39,"v":0.32},{"x":0.343,"y":0.39,"v":0.31},{"x":0.3675,"y":0.39,"v":0.3},{"x":0.392,"y":0.39,"v":0.29},{"x":0.4165,"y":0.39,"v":0.28},{"x":0.441,"y":0.39,"v":0.28},{"x":0.4655,"y":0.39,"v":0.27},
{"x":0,"y":0.405,"v":0.43},{"x":0.0245,"y":0.405,"v":0.42},{"x":0.049,"y":0.405,"v":0.42},{"x":0.0735,"y":0.405,"v":0.41},{"x":0.098,"y":0.405,"v":0.4},{"x":0.1225,"y":0.405,"v":0.39},{"x":0.147,"y":0.405,"v":0.38},{"x":0.1715,"y":0.405,"v":0.37},{"x":0.196,"y":0.405,"v":0.36},{"x":0.2205,"y":0.405,"v":0.35},{"x":0.245,"y":0.405,"v":0.34},{"x":0.2695,"y":0.405,"v":0.33},{"x":0.294,"y":0.405,"v":0.32},{"x":0.3185,"y":0.405,"v":0.31},{"x":0.343,"y":0.405,"v":0.3},{"x":0.3675,"y":0.405,"v":0.29},{"x":0.392,"y":0.405,"v":0.28},{"x":0.4165,"y":0.405,"v":0.27},{"x":0.441,"y":0.405,"v":0.27},{"x":0.4655,"y":0.405,"v":0.26},
{"x":0,"y":0.42,"v":0.42},{"x":0.0245,"y":0.42,"v":0.41},{"x":0.049,"y":0.42,"v":0.41},{"x":0.0735,"y":0.42,"v":0.4},{"x":0.098,"y":0.42,"v":0.39},{"x":0.1225,"y":0.42,"v":0.38},{"x":0.147,"y":0.42,"v":0.37},{"x":0.1715,"y":0.42,"v":0.36},{"x":0.196,"y":0.42,"v":0.35},{"x":0.2205,"y":0.42,"v":0.34},{"x":0.245,"y":0.42,"v":0.33},{"x":0.2695,"y":0.42,"v":0.32},{"x":0.294,"y":0.42,"v":0.31},{"x":0.3185,"y":0.42,"v":0.3},{"x":0.343,"y":0.42,"v":0.29},{"x":0.3675,"y":0.42,"v":0.28},{"x":0.392,"y":0.42,"v":0.27},{"x":0.4165,"y":0.42,"v":0.26},{"x":0.441,"y":0.42,"v":0.26},{"x":0.4655,"y":0.42,"v":0.25},
{"x":0,"y":0.435,"v":0.41},{"x":0.0245,"y":0.435,"v":0.4},{"x":0.049,"y":0.435,"v":0.4},{"x":0.0735,"y":0.435,"v":0.39},{"x":0.098,"y":0.435,"v":0.38},{"x":0.1225,"y":0.435,"v":0.37},{"x":0.147,"y":0.435,"v":0.36},{"x":0.1715,"y":0.435,"v":0.35},{"x":0.196,"y":0.435,"v":0.34},{"x":0.2205,"y":0.435,"v":0.33},{"x":0.245,"y":0.435,"v":0.32},{"x":0.2695,"y":0.435,"v":0.31},{"x":0.294,"y":0.435,"v":0.3},{"x":0.3185,"y":0.435,"v":0.29},{"x":0.343,"y":0.435,"v":0.28},{"x":0.3675,"y":0.435,"v":0.27},{"x":0.392,"y":0.435,"v":0.26},{"x":0.4165,"y":0.435,"v":0.26},{"x":0.441,"y":0.435,"v":0.25},{"x":0.4655,"y":0.435,"v":0.245},
{"x":0,"y":0.45,"v":0.4},{"x":0.0245,"y":0.45,"v":0.39},{"x":0.049,"y":0.45,"v":0.39},{"x":0.0735,"y":0.45,"v":0.38},{"x":0.098,"y":0.45,"v":0.37},{"x":0.1225,"y":0.45,"v":0.36},{"x":0.147,"y":0.45,"v":0.35},{"x":0.1715,"y":0.45,"v":0.34},{"x":0.196,"y":0.45,"v":0.33},{"x":0.2205,"y":0.45,"v":0.32},{"x":0.245,"y":0.45,"v":0.31},{"x":0.2695,"y":0.45,"v":0.3},{"x":0.294,"y":0.45,"v":0.29},{"x":0.3185,"y":0.45,"v":0.28},{"x":0.343,"y":0.45,"v":0.27},{"x":0.3675,"y":0.45,"v":0.26},{"x":0.392,"y":0.45,"v":0.255},{"x":0.4165,"y":0.45,"v":0.25},{"x":0.441,"y":0.45,"v":0.243},{"x":0.4655,"y":0.45,"v":0.237}
]},
"encoding":{
 "x":{"field":"x","type":"quantitative","bin":{"binned":true,"step":0.0249},
  "scale":{"domain":[-0.0247,0.5247],"nice":false,"zero":false},
  "axis":{"zindex":0,"values":[0,0.05,0.1,0.15,0.2,0.25,0.3,0.35,0.4,0.45,0.5],
   "labelExpr":"round(datum.value*20)%2==1 ? '' : format(datum.value,'.1f')",
   "labelFont":"Liberation Sans","labelFontSize":48,"labelColor":"#4D4D4D","labelPadding":-2,"labelFlush":false,"labelOverlap":false,"labelBound":false,
   "tickColor":"#333333","tickWidth":2,"tickSize":7,
   "tickOpacity":{"condition":{"test":"round(datum.value*20)%2==1","value":0},"value":1},
   "grid":true,"gridColor":"#EBEBEB",
   "gridWidth":{"condition":{"test":"round(datum.value*20)%2==1","value":1.1},"value":2.2},
   "domain":false,
   "title":"Menhaden full F","titleFont":"Liberation Sans","titleFontSize":57,"titleFontWeight":"bold","titleColor":"#000000",
   "titleX":667.35,"titleY":102.3,"titleBaseline":"alphabetic","titleAlign":"center"}},
 "color":{"field":"v","type":"quantitative",
  "scale":{"type":"linear","domain":[0.236,3.43],"range":["#FF0000","#CCFF00","#00FF66","#0066FF","#CC00FF"],"interpolate":"lab"},
  "legend":{"type":"gradient","values":[1,2,3],"direction":"vertical","orient":"none","legendX":1379,"legendY":363.7,
   "gradientLength":230,"gradientThickness":46,"gradientStrokeWidth":0,
   "title":["Striped bass","B ratio"],"titleFont":"Liberation Sans","titleFontSize":58,"titleFontWeight":"normal","titleColor":"#000000","titleLineHeight":62,"titlePadding":10,"titleLimit":1000,
   "labelFont":"Liberation Sans","labelFontSize":51,"labelColor":"#000000","labelOffset":29,"labelOverlap":false,"padding":0}}
},
"layer":[
 {"data":{"name":"lo"},"mark":{"type":"rect","binSpacing":0},
  "encoding":{"y":{"field":"y","type":"quantitative","bin":{"binned":true,"step":0.008},
  "scale":{"domain":[-0.0233,0.4882],"nice":false,"zero":false},
  "axis":{"zindex":0,"values":[0,0.025,0.05,0.075,0.1,0.125,0.15,0.175,0.2,0.225,0.25,0.275,0.3,0.325,0.35,0.375,0.4,0.425,0.45,0.475],
   "labelExpr":"round(datum.value*40)%2==1 ? '' : format(datum.value,'.2f')",
   "labelFont":"Liberation Sans","labelFontSize":48,"labelColor":"#4D4D4D","labelPadding":7,"labelOffset":4,"labelFlush":false,"labelOverlap":false,"labelBound":false,
   "tickColor":"#333333","tickWidth":2,"tickSize":7,
   "tickOpacity":{"condition":{"test":"round(datum.value*40)%2==1","value":0},"value":1},
   "grid":true,"gridColor":"#EBEBEB",
   "gridWidth":{"condition":{"test":"round(datum.value*40)%2==1","value":1.1},"value":2.2},
   "domain":false,
   "title":"Striped bass F","titleFont":"Liberation Sans","titleFontSize":58,"titleFontWeight":"bold","titleColor":"#000000",
   "titleAngle":270,"titleX":-128,"titleY":549.2,"titleBaseline":"alphabetic","titleAlign":"center"}}}},
 {"data":{"name":"hi"},"mark":{"type":"rect","binSpacing":0},
  "encoding":{"y":{"field":"y","type":"quantitative","bin":{"binned":true,"step":0.0155},
  "scale":{"domain":[-0.0233,0.4882],"nice":false,"zero":false},
  "axis":{"zindex":0,"values":[0,0.025,0.05,0.075,0.1,0.125,0.15,0.175,0.2,0.225,0.25,0.275,0.3,0.325,0.35,0.375,0.4,0.425,0.45,0.475],
   "labelExpr":"round(datum.value*40)%2==1 ? '' : format(datum.value,'.2f')",
   "labelFont":"Liberation Sans","labelFontSize":48,"labelColor":"#4D4D4D","labelPadding":7,"labelOffset":4,"labelFlush":false,"labelOverlap":false,"labelBound":false,
   "tickColor":"#333333","tickWidth":2,"tickSize":7,
   "tickOpacity":{"condition":{"test":"round(datum.value*40)%2==1","value":0},"value":1},
   "grid":true,"gridColor":"#EBEBEB",
   "gridWidth":{"condition":{"test":"round(datum.value*40)%2==1","value":1.1},"value":2.2},
   "domain":false,
   "title":"Striped bass F","titleFont":"Liberation Sans","titleFontSize":58,"titleFontWeight":"bold","titleColor":"#000000",
   "titleAngle":270,"titleX":-128,"titleY":549.2,"titleBaseline":"alphabetic","titleAlign":"center"}}}}
],
"config":{"view":{"stroke":"#333333","strokeWidth":2},"font":"Liberation Sans"}
}
